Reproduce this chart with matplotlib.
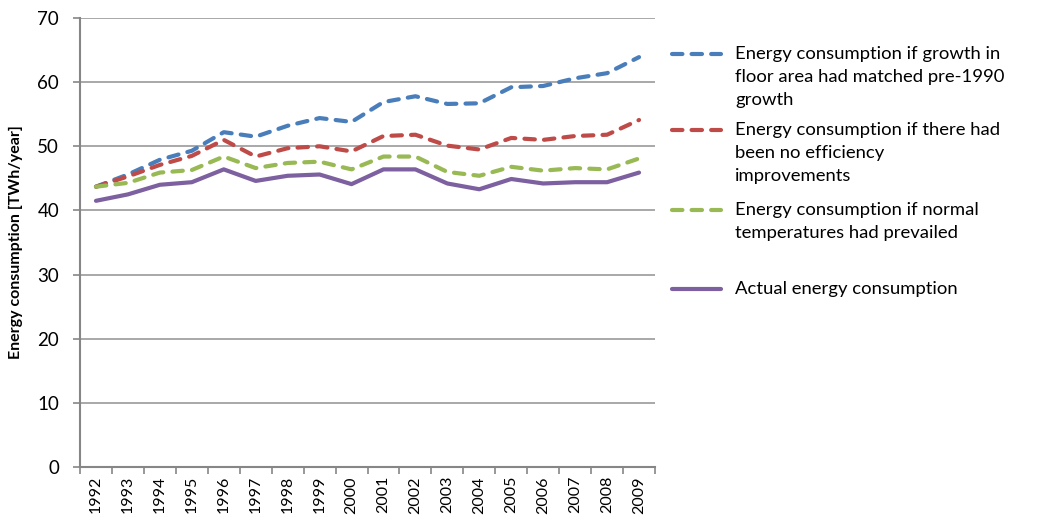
import matplotlib.pyplot as plt
from matplotlib.lines import Line2D
import numpy as np

years = [str(y) for y in range(1992, 2010)]
floor_growth = [43.7, 45.6, 47.9, 49.3, 52.2, 51.5, 53.2, 54.4, 53.8, 56.9,
                57.8, 56.6, 56.7, 59.2, 59.4, 60.6, 61.4, 63.9]
no_efficiency = [43.7, 45.3, 47.1, 48.5, 51.0, 48.4, 49.7, 50.0, 49.2, 51.6,
                 51.8, 50.1, 49.5, 51.3, 51.0, 51.6, 51.8, 54.1]
normal_temp = [43.7, 44.3, 45.9, 46.3, 48.4, 46.6, 47.4, 47.6, 46.4, 48.4,
               48.4, 46.0, 45.4, 46.8, 46.2, 46.6, 46.4, 48.1]
actual = [41.5, 42.5, 44.0, 44.4, 46.4, 44.6, 45.4, 45.6, 44.1, 46.4,
          46.4, 44.2, 43.3, 44.9, 44.2, 44.4, 44.4, 45.9]

labels = [
    ["Energy consumption if growth in", "floor area had matched pre-1990", "growth"],
    ["Energy consumption if there had", "been no efficiency", "improvements"],
    ["Energy consumption if normal", "temperatures had prevailed"],
    ["Actual energy consumption"],
]
colors = ["#4A7EBB", "#BE4B48", "#98B954", "#7D60A0"]

plt.rcParams["font.family"] = ["Lato", "DejaVu Sans"]

W, H = 1038, 517
fig = plt.figure(figsize=(W / 100, H / 100), dpi=100)
ax = fig.add_axes([80 / W, 1 - 467 / H, 575 / W, 449 / H])

x = np.arange(len(years))
series = [floor_growth, no_efficiency, normal_temp, actual]
styles = []
for i, (vals, c) in enumerate(zip(series, colors)):
    if i < 3:
        kw = dict(color=c, lw=3, dashes=(2.5, 2.2), dash_capstyle="round")
    else:
        kw = dict(color=c, lw=3, solid_capstyle="round", solid_joinstyle="round")
    styles.append(kw)
    ax.plot(x, vals, zorder=3, **kw)

gray = "#868686"
ax.set_xlim(-0.5, len(years) - 0.5)
ax.set_ylim(0, 70)
ax.set_yticks(np.arange(0, 71, 10))
ax.yaxis.grid(True, color="#9A9A9A", lw=1.2)
ax.set_axisbelow(True)
for s in ["top", "right"]:
    ax.spines[s].set_visible(False)
ax.spines["left"].set_color(gray)
ax.spines["bottom"].set_color(gray)
ax.spines["left"].set_linewidth(1.5)
ax.spines["bottom"].set_linewidth(1.5)

ax.set_xticks(x)
ax.set_xticklabels(years, rotation=90, fontsize=11.5)
ax.set_xticks(np.arange(-0.5, len(years)), minor=True)
ax.tick_params(axis="x", which="major", length=0, pad=6.5)
ax.tick_params(axis="x", which="minor", length=5, color=gray, width=1.2)
ax.tick_params(axis="y", length=5, color=gray, width=1.2, labelsize=13.5, pad=10)
ax.set_ylabel("Energy consumption [TWh/year]", fontsize=11.5, fontweight="bold")
ax.yaxis.set_label_coords(-57 / 575, 0.5)

# legend drawn by hand so that the key lines up with the first text line
entry_y = [54, 130, 210, 289]
line_gap = 23
for kw, lines, y0 in zip(styles, labels, entry_y):
    fy = 1 - y0 / H
    fig.add_artist(Line2D([672 / W, 721 / W], [fy, fy],
                          transform=fig.transFigure, **kw))
    for j, t in enumerate(lines):
        fig.text(735 / W, 1 - (y0 + j * line_gap) / H, t, fontsize=13.3,
                 va="center", ha="left")

fig.savefig("out.png", dpi=100)
plt.close(fig)
